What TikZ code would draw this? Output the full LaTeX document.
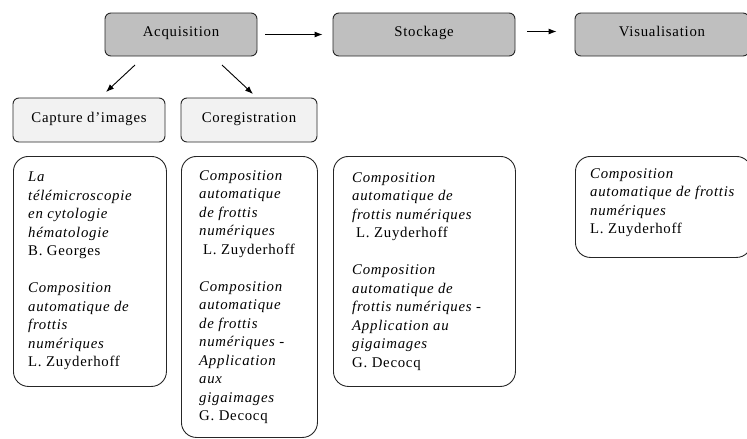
\documentclass[tikz,border=0pt]{standalone}
\usepackage{fontspec}
\setmainfont{Liberation Serif}[LetterSpace=5]
\usetikzlibrary{arrows.meta}
\begin{document}
\begin{tikzpicture}[x=1pt,y=-1pt,
  every node/.style={font=\fontsize{14.8}{18.5}\selectfont},
  etape/.style={draw=black!85,line width=0.9pt,rounded corners=6pt,fill=black!25,
    minimum height=43pt,text height=10pt,text depth=7pt,inner sep=0pt},
  sousetape/.style={draw=black!85,line width=0.9pt,rounded corners=6pt,fill=black!5,
    minimum height=44pt,text height=10pt,text depth=6pt,inner sep=0pt},
  cadre/.style={draw=black!85,line width=0.9pt,rounded corners=15pt,inner sep=0pt,anchor=north west},
  refs/.style={anchor=north west,align=left,inner sep=0pt},
  fleche/.style={-{Latex[length=8pt,width=6pt]},line width=0.9pt}]
  \useasboundingbox (0,0) rectangle (747,439);
  \clip (0,0) rectangle (747,439);

  \node[etape,minimum width=152pt] (acq) at (181,34.5) {Acquisition};
  \node[etape,minimum width=182pt] (sto) at (424,34.5) {Stockage};
  \node[etape,minimum width=174pt] (vis) at (662,34.5) {Visualisation};

  \node[sousetape,minimum width=152pt] (cap) at (89,120) {Capture d'images};
  \node[sousetape,minimum width=136pt] (cor) at (249,120) {Coregistration};

  \draw[fleche,shorten <=8pt,shorten >=10pt] (acq) -- (sto);
  \draw[fleche,shorten <=12pt,shorten >=18pt] ([yshift=3pt]sto.east) -- ([yshift=3pt]vis.west);

  \coordinate (a1) at (135,65);
  \coordinate (b1) at (106,92);
  \coordinate (a2) at (222,65);
  \coordinate (b2) at (253,94);
  \draw[fleche] (a1) -- (b1);
  \draw[fleche] (a2) -- (b2);

  \node[cadre,minimum width=153pt,minimum height=230pt] (c1) at (13,156) {};
  \node[cadre,minimum width=136pt,minimum height=281pt] (c2) at (181,156) {};
  \node[cadre,minimum width=182pt,minimum height=230pt] (c3) at (333,156) {};
  \node[cadre,minimum width=176pt,minimum height=101pt] (c4) at (575,156) {};

  \node[refs] (t1) at ([xshift=15pt,yshift=-16pt]c1.north west)
    {\textit{La}\\ \textit{télémicroscopie}\\ \textit{en cytologie}\\ \textit{hématologie}\\ B. Georges\\[18.5pt]
     \textit{Composition}\\ \textit{automatique de}\\ \textit{frottis}\\ \textit{numériques}\\ L. Zuyderhoff};
  \node[refs] (t2) at ([xshift=18pt,yshift=-14pt]c2.north west)
    {\textit{Composition}\\ \textit{automatique}\\ \textit{de frottis}\\ \textit{numériques}\\ \hspace{4pt}L. Zuyderhoff\\[18.5pt]
     \textit{Composition}\\ \textit{automatique}\\ \textit{de frottis}\\ \textit{numériques -}\\ \textit{Application}\\ \textit{aux}\\ \textit{gigaimages}\\ G. Decocq};
  \node[refs] (t3) at ([xshift=19pt,yshift=-16pt]c3.north west)
    {\textit{Composition}\\ \textit{automatique de}\\ \textit{frottis numériques}\\ \hspace{4pt}L. Zuyderhoff\\[18.5pt]
     \textit{Composition}\\ \textit{automatique de}\\ \textit{frottis numériques -}\\ \textit{Application au}\\ \textit{gigaimages}\\ G. Decocq};
  \node[refs] (t4) at ([xshift=15pt,yshift=-12pt]c4.north west)
    {\textit{Composition}\\ \textit{automatique de frottis}\\ \textit{numériques}\\ L. Zuyderhoff};
\end{tikzpicture}
\end{document}
